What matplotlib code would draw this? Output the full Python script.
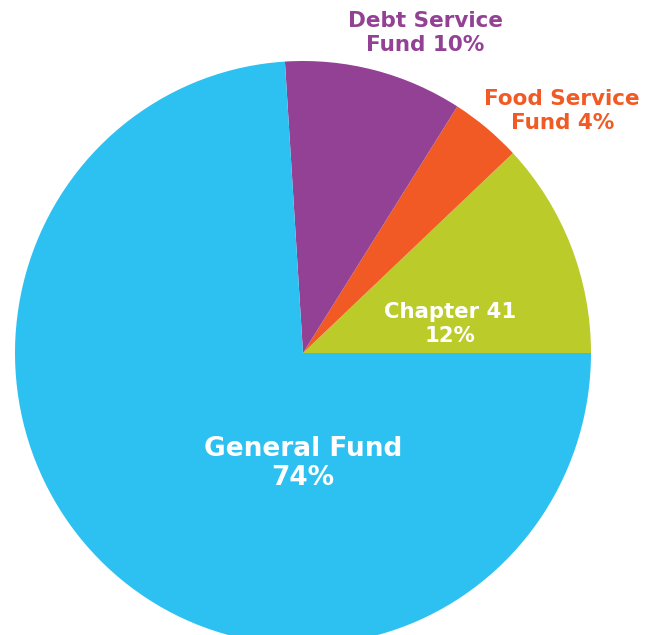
import matplotlib
matplotlib.use("Agg")
import matplotlib.pyplot as plt

# Fund shares, counter-clockwise from 3 o'clock
funds = ["Chapter 41", "Food Service Fund", "Debt Service Fund", "General Fund"]
shares = [12, 4, 10, 74]
colors = ["#BBCB29", "#F15A24", "#924195", "#2CC1F1"]

label_texts = ["Chapter 41\n12%", "Food Service\nFund 4%", "Debt Service\nFund 10%", "General Fund\n74%"]
label_colors = ["white", "#F15A24", "#924195", "white"]
label_pos = [(0.51, 0.10), (0.90, 0.83), (0.425, 1.095), (0.0, -0.38)]
label_sizes = [15.3, 15.5, 15.5, 19]
label_spacing = [1.28, 1.25, 1.25, 1.15]

fig = plt.figure(figsize=(6.52, 6.35), dpi=100)
ax = fig.add_axes([0, 0, 1, 1])
ax.pie(shares, colors=colors, startangle=0, counterclock=True,
       wedgeprops=dict(linewidth=0), radius=1.0)
ax.set_aspect("auto")
ax.set_xlim(-303 / 288, (652 - 303) / 288)
ax.set_ylim(-(635 - 353) / 292, 353 / 292)
ax.axis("off")

for txt, col, (x, y), fs, ls in zip(label_texts, label_colors, label_pos,
                                    label_sizes, label_spacing):
    ax.text(x, y, txt, color=col, fontsize=fs, fontweight="bold",
            family="DejaVu Sans", ha="center", va="center", linespacing=ls)

fig.savefig("out.png", dpi=100)
